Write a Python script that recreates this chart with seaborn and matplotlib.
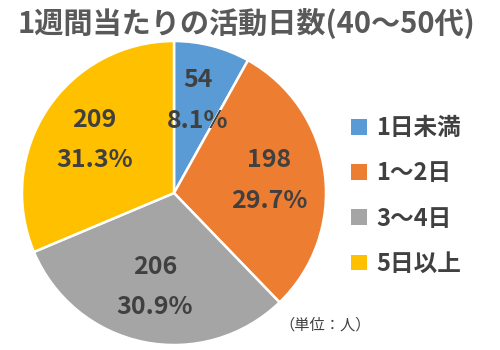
import matplotlib
matplotlib.use("Agg")
import matplotlib.pyplot as plt
import seaborn as sns
from matplotlib.patches import Patch

sns.set_theme(style="white")
plt.rcParams["font.family"] = ["Noto Sans CJK JP", "DejaVu Sans"]

categories = ["1日未満", "1～2日", "3～4日", "5日以上"]
counts = [54, 198, 206, 209]
percents = [8.1, 29.7, 30.9, 31.3]
colors = ["#5B9BD5", "#ED7D31", "#A5A5A5", "#FFC000"]

title = "1週間当たりの活動日数(40～50代)"
unit_note = "（単位：人）"

fig = plt.figure(figsize=(5, 3.5), dpi=100)
ax = fig.add_axes([0.044, 0.014, 0.608, 0.869])

labels_iter = iter(zip(counts, percents))


def fmt(_pct):
    n, p = next(labels_iter)
    return f"{n}\n\n{p:.1f}%"


wedges, _, autotexts = ax.pie(
    counts,
    colors=colors,
    startangle=90,
    counterclock=False,
    autopct=fmt,
    pctdistance=0.63,
    wedgeprops=dict(edgecolor="white", linewidth=1.8),
    textprops=dict(color="#404040", fontsize=18, fontweight="bold",
                   linespacing=0.8),
)
ax.set_xlim(-1, 1)
ax.set_ylim(-1, 1)
ax.set_aspect("equal")

fig.text(0.494, 0.935, title, ha="center", va="center", fontsize=21,
         fontweight="bold", color="#595959")

handles = [Patch(facecolor=c, edgecolor="none") for c in colors]
fig.legend(handles, categories, loc="center left", bbox_to_anchor=(0.66, 0.44),
           frameon=False, handlelength=0.65, handleheight=0.65,
           handletextpad=0.4, labelspacing=0.9,
           prop=dict(weight="bold", size=17))
for t in fig.legends[0].get_texts():
    t.set_color("#404040")

fig.text(0.65, 0.07, unit_note, ha="center", va="center", fontsize=11,
         color="#404040")

fig.savefig("out.png", dpi=100)
